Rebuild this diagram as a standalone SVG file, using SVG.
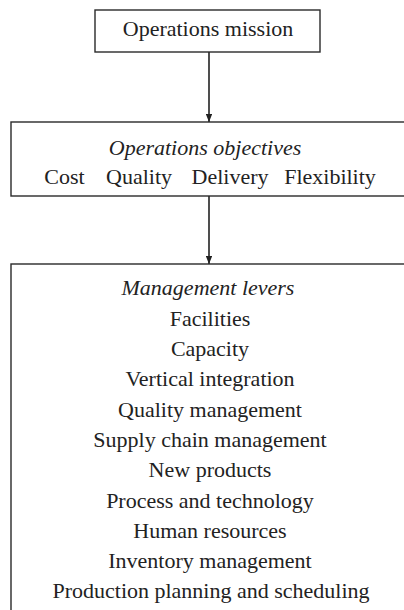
<svg xmlns="http://www.w3.org/2000/svg" width="404" height="610" viewBox="0 0 404 610">
<style>
.box{fill:#fff;stroke:#2a2a2a;stroke-width:1.4}
.t{font-family:"Liberation Serif",serif;font-size:22px;fill:#222;text-anchor:middle}
.i{font-style:italic}
.c{stroke:#222;stroke-width:1.6;fill:none}
</style>
<defs>
<marker id="ah" viewBox="0 0 10 8" refX="10" refY="4" markerWidth="5" markerHeight="4" markerUnits="strokeWidth" orient="auto">
<path d="M0,0 L10,4 L0,8 z" fill="#222"/>
</marker>
</defs>
<rect width="404" height="610" fill="#fff"/>
<g id="connectors">
<line class="c" x1="209" y1="52" x2="209" y2="122" marker-end="url(#ah)"/>
<line class="c" x1="209" y1="196" x2="209" y2="264" marker-end="url(#ah)"/>
</g>
<g id="mission">
<rect class="box" x="95" y="10" width="225" height="42"/>
<text class="t" x="208" y="36">Operations mission</text>
</g>
<g id="objectives">
<rect class="box" x="11" y="122" width="400" height="74"/>
<text class="t i" x="205" y="155">Operations objectives</text>
<text class="t" x="64.5" y="184">Cost</text>
<text class="t" x="139" y="184">Quality</text>
<text class="t" x="230" y="184">Delivery</text>
<text class="t" x="330" y="184">Flexibility</text>
</g>
<g id="levers">
<rect class="box" x="11" y="264" width="400" height="360"/>
<text class="t i" x="208" y="295">Management levers</text>
<text class="t" x="210" y="325.5">Facilities</text>
<text class="t" x="210" y="355.5">Capacity</text>
<text class="t" x="210" y="386">Vertical integration</text>
<text class="t" x="210" y="416.5">Quality management</text>
<text class="t" x="210" y="447">Supply chain management</text>
<text class="t" x="210" y="477">New products</text>
<text class="t" x="210" y="507.5">Process and technology</text>
<text class="t" x="210" y="538">Human resources</text>
<text class="t" x="210" y="568">Inventory management</text>
<text class="t" x="211" y="598">Production planning and scheduling</text>
</g>
</svg>
